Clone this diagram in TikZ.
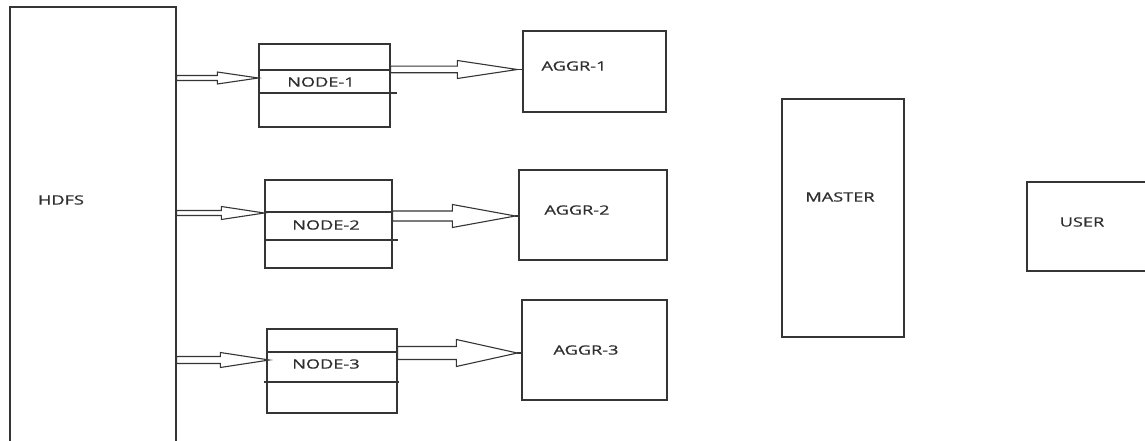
\documentclass[tikz,border=0pt]{standalone}
\usepackage{fontspec}
\usepackage{graphicx}
\setmainfont[FakeBold=0.6]{Open Sans}
\usetikzlibrary{calc}
\definecolor{ln}{HTML}{353535}
\definecolor{tx}{HTML}{2E2E2E}
\newcommand{\widetext}[1]{\scalebox{1.42}[1]{#1}}
\tikzset{
  boxnode/.style={draw=ln, line width=1.3pt, fill=white, rectangle, inner sep=0pt},
  labelnode/.style={text=tx, inner sep=0pt, font=\fontsize{12.8}{13}\selectfont},
  rowline/.style={draw=ln, line width=1.2pt},
  arrowline/.style={draw=ln, line width=1.1pt, fill=white, line join=miter}
}
% #1 start, #2 tip, #3 shaft half width, #4 head half width, #5 head length
\newcommand{\blockarrow}[5]{%
  \draw[arrowline] let \p1=(#1), \p2=(#2) in
    (\x1,\y1+#3) -- (\x2-#5,\y1+#3) -- (\x2-#5,\y1+#4) -- (\x2,\y1) --
    (\x2-#5,\y1-#4) -- (\x2-#5,\y1-#3) -- (\x1,\y1-#3) -- cycle;}
\begin{document}
\begin{tikzpicture}[x=1pt,y=-1pt]
\useasboundingbox (0,0) rectangle (1145,441);
\clip (0,0) rectangle (1145,441);
\fill[white] (0,0) rectangle (1145,441);

% boxes
\node[boxnode, minimum width=166pt, minimum height=460pt] (hdfs) at (93,237) {};
\node[boxnode, minimum width=131pt, minimum height=83pt] (n1) at (324.5,85.5) {};
\node[boxnode, minimum width=127pt, minimum height=88pt] (n2) at (328.5,224) {};
\node[boxnode, minimum width=130pt, minimum height=84pt] (n3) at (332,371) {};
\node[boxnode, minimum width=143pt, minimum height=81pt] (a1) at (594.5,71.5) {};
\node[boxnode, minimum width=148pt, minimum height=90pt] (a2) at (593,215) {};
\node[boxnode, minimum width=145pt, minimum height=100pt] (a3) at (594.5,350) {};
\node[boxnode, minimum width=122pt, minimum height=238pt] (master) at (843,218) {};
\node[boxnode, minimum width=130pt, minimum height=89pt] (user) at (1092,226.5) {};

% row lines inside NODE boxes
\draw[rowline] (n1.west |- 0,70) -- ([xshift=3pt]n1.east |- 0,70);
\draw[rowline] (n1.west |- 0,93) -- ([xshift=6pt]n1.east |- 0,93);
\draw[rowline] (n2.west |- 0,212) -- (n2.east |- 0,212);
\draw[rowline] (n2.west |- 0,240) -- ([xshift=5pt]n2.east |- 0,240);
\draw[rowline] (n3.west |- 0,352) -- (n3.east |- 0,352);
\draw[rowline] ([xshift=-2pt]n3.west |- 0,382) -- ([xshift=1pt]n3.east |- 0,382);

% labels
\node[labelnode] (thdfs) at (61,200) {\widetext{HDFS}};
\node[labelnode] (tn1) at (321,82) {\widetext{NODE-1}};
\node[labelnode] (tn2) at (326,225) {\widetext{NODE-2}};
\node[labelnode] (tn3) at (326,364) {\widetext{NODE-3}};
\node[labelnode] (ta1) at (574,66) {\widetext{AGGR-1}};
\node[labelnode] (ta2) at (577,210) {\widetext{AGGR-2}};
\node[labelnode] (ta3) at (586,350) {\widetext{AGGR-3}};
\node[labelnode] (tm) at (840,197) {\widetext{MASTER}};
\node[labelnode] (tu) at (1082,222) {\widetext{USER}};

% arrow end points
\coordinate (s1) at (hdfs.east |- 0,78);
\coordinate (e1) at (n1.west |- 0,78);
\coordinate (s2) at (hdfs.east |- 0,213);
\coordinate (e2) at (n2.west |- 0,213);
\coordinate (s3) at (hdfs.east |- 0,360);
\coordinate (e3) at ([xshift=3pt]n3.west |- 0,360);
\coordinate (s4) at (n1.east |- 0,69.5);
\coordinate (e4) at ([xshift=-5pt]a1.west |- 0,69.5);
\coordinate (s5) at (n2.east |- 0,216);
\coordinate (e5) at ([xshift=-3pt]a2.west |- 0,216);
\coordinate (s6) at (n3.east |- 0,353);
\coordinate (e6) at ([xshift=-4pt]a3.west |- 0,353);

% arrows
\blockarrow{s1}{e1}{2.5pt}{6pt}{41pt}
\blockarrow{s2}{e2}{2.5pt}{6.5pt}{43pt}
\blockarrow{s3}{e3}{3.5pt}{7.5pt}{49pt}
\blockarrow{s4}{e4}{3.3pt}{9pt}{60pt}
\blockarrow{s5}{e5}{5pt}{11.5pt}{63pt}
\blockarrow{s6}{e6}{6.5pt}{13.5pt}{61pt}
\draw[rowline] (e4) -- (a1.west |- e4);
\draw[rowline] (e5) -- (a2.west |- e5);
\draw[rowline] (e6) -- (a3.west |- e6);
\end{tikzpicture}
\end{document}
